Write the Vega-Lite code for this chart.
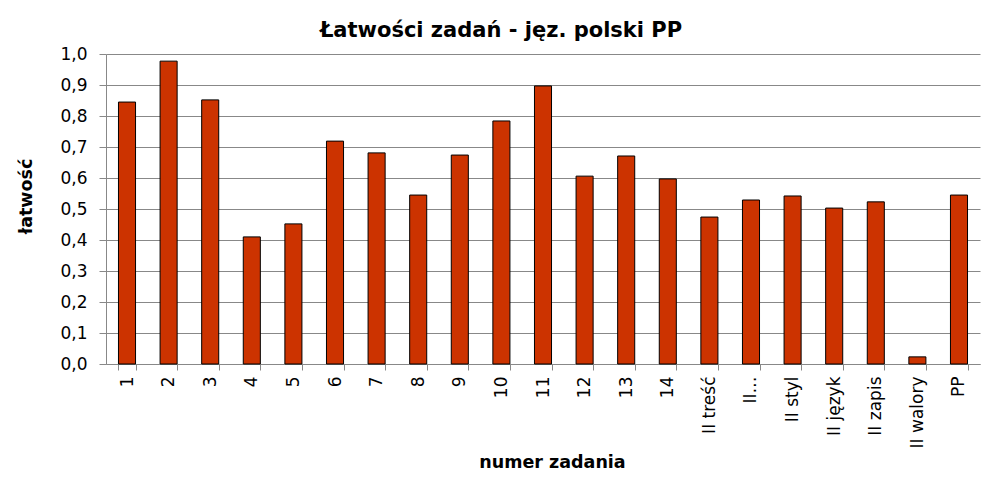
{
  "$schema": "https://vega.github.io/schema/vega-lite/v6.json",
  "width": 874,
  "height": 310,
  "autosize": {"type": "none"},
  "padding": {"left": 106, "top": 54, "right": 26, "bottom": 140},
  "background": "white",
  "title": {
    "text": "Łatwości zadań - jęz. polski PP",
    "font": "DejaVu Sans",
    "fontSize": 21,
    "fontWeight": "bold",
    "color": "black",
    "anchor": "middle",
    "dx": -42,
    "offset": 4
  },
  "data": {
    "values": [
      {"zadanie": "1", "latwosc": 0.845},
      {"zadanie": "2", "latwosc": 0.977},
      {"zadanie": "3", "latwosc": 0.852},
      {"zadanie": "4", "latwosc": 0.41},
      {"zadanie": "5", "latwosc": 0.452},
      {"zadanie": "6", "latwosc": 0.719},
      {"zadanie": "7", "latwosc": 0.681},
      {"zadanie": "8", "latwosc": 0.545},
      {"zadanie": "9", "latwosc": 0.674},
      {"zadanie": "10", "latwosc": 0.784},
      {"zadanie": "11", "latwosc": 0.897},
      {"zadanie": "12", "latwosc": 0.606},
      {"zadanie": "13", "latwosc": 0.671},
      {"zadanie": "14", "latwosc": 0.597},
      {"zadanie": "II treść", "latwosc": 0.474},
      {"zadanie": "II…", "latwosc": 0.529},
      {"zadanie": "II styl", "latwosc": 0.542},
      {"zadanie": "II język", "latwosc": 0.503},
      {"zadanie": "II zapis", "latwosc": 0.523},
      {"zadanie": "II walory", "latwosc": 0.023},
      {"zadanie": "PP", "latwosc": 0.545}
    ]
  },
  "mark": {"type": "bar", "color": "#CC3300", "stroke": "black", "strokeWidth": 1},
  "encoding": {
    "x": {
      "field": "zadanie",
      "type": "nominal",
      "sort": null,
      "scale": {"paddingInner": 0.59, "paddingOuter": 0.3},
      "axis": {
        "title": "numer zadania",
        "titleFont": "DejaVu Sans",
        "titleFontSize": 17.5,
        "titleFontWeight": "bold",
        "titleColor": "black",
        "titlePadding": 6,
        "titleX": 446,
        "labelAngle": -90,
        "labelFont": "DejaVu Sans",
        "labelFontSize": 17,
        "labelColor": "black",
        "labelPadding": 6,
        "tickBand": "extent",
        "tickColor": "#888888",
        "tickSize": 6,
        "domainColor": "#888888",
        "grid": false
      }
    },
    "y": {
      "field": "latwosc",
      "type": "quantitative",
      "scale": {"domain": [0, 1]},
      "axis": {
        "title": "łatwość",
        "titleFont": "DejaVu Sans",
        "titleFontSize": 17.5,
        "titleFontWeight": "bold",
        "titleColor": "black",
        "titlePadding": 24,
        "titleY": 142,
        "values": [0, 0.1, 0.2, 0.3, 0.4, 0.5, 0.6, 0.7, 0.8, 0.9, 1.0],
        "labelExpr": "replace(format(datum.value, '.1f'), '.', ',')",
        "labelFont": "DejaVu Sans",
        "labelFontSize": 17,
        "labelColor": "black",
        "labelPadding": 12,
        "tickColor": "#888888",
        "tickSize": 7,
        "domainColor": "#888888",
        "gridColor": "#888888",
        "gridOpacity": 1
      }
    }
  },
  "config": {"view": {"stroke": null}}
}
